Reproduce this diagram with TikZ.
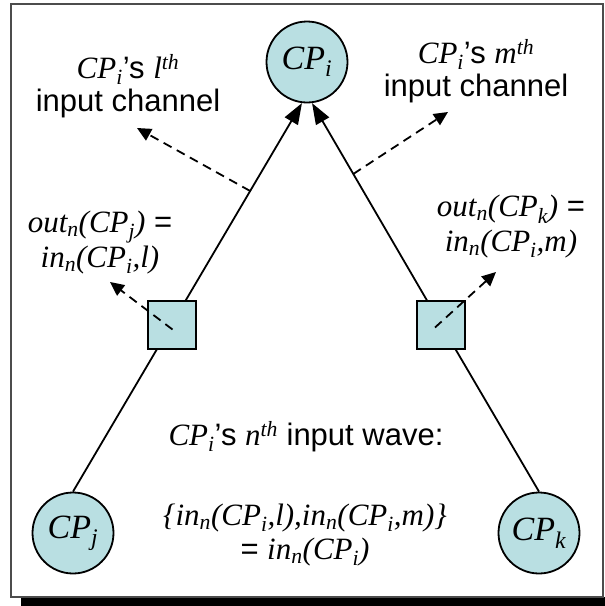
\documentclass[tikz,border=0pt]{standalone}
\usepackage{fontspec}
\setmainfont{Liberation Sans}
\newfontfamily\tnr{Liberation Serif}
\usetikzlibrary{arrows.meta,calc,backgrounds}
\definecolor{cpfill}{RGB}{185,223,226}
\newcommand{\mi}[1]{{\tnr\itshape #1}}
\newcommand{\lsb}[1]{\textsubscript{#1}}
\newcommand{\lsp}[1]{\textsuperscript{#1}}
\begin{document}
\begin{tikzpicture}[x=1pt,y=-1pt,
  cp/.style={circle,draw=black,line width=1.8pt,fill=cpfill,minimum size=81pt,inner sep=0pt,
    font=\fontsize{34}{38}\selectfont},
  sq/.style={rectangle,draw=black,line width=2pt,fill=cpfill,minimum width=48pt,minimum height=48pt,inner sep=0pt},
  lbl/.style={align=center,font=\fontsize{31}{33}\selectfont,inner sep=0pt},
  edge/.style={line width=1.8pt},
  arr/.style={edge,-{Triangle[length=21pt,width=15pt]}},
  dasharr/.style={line width=1.8pt,dash pattern=on 9pt off 6pt,-{Triangle[length=14pt,width=13pt]}}]
\useasboundingbox (0,0) rectangle (605,606);
% frame and shadow
\fill[black] (21,597) rectangle (605,606);
\draw[draw=black!70,line width=1.4pt] (11,4) rectangle (603,597);
% nodes
\node[cp] (ci) at (307,62) {\mi{CP\lsb{i}}};
\node[cp] (cj) at (73,533) {\mi{CP\lsb{j}}};
\node[cp] (ck) at (539,533) {\mi{CP\lsb{k}}};
\node[sq] (sql) at (171.5,324.5) {};
\node[sq] (sqr) at (441,324.5) {};
% labels
\node[lbl] (ll) at (128,86) {\mi{CP\lsb{i}}’s \mi{l\lsp{th}}\\input channel};
\node[lbl] (lr) at (476,71) {\mi{CP\lsb{i}}’s \mi{m\lsp{th}}\\input channel};
\node[lbl,font=\fontsize{31}{35}\selectfont] (ol) at (100,243) {\mi{out\lsb{n}(CP\lsb{j})} =\\\mi{in\lsb{n}(CP\lsb{i},l)}};
\node[lbl,font=\fontsize{31}{35}\selectfont] (or) at (511,227) {\mi{out\lsb{n}(CP\lsb{k})} =\\\mi{in\lsb{n}(CP\lsb{i},m)}};
\node[lbl] (wv) at (306,437) {\mi{CP\lsb{i}}’s \mi{n\lsp{th}} input wave:};
\node[lbl,font=\fontsize{31}{34}\selectfont] (eq) at (305,535) {\mi{\{in\lsb{n}(CP\lsb{i},l),in\lsb{n}(CP\lsb{i},m)\}}\\= \mi{in\lsb{n}(CP\lsb{i})}};
% free ends of dashed arrows
\coordinate (tl) at (137,128);
\coordinate (tr) at (448,112);
\coordinate (tsl) at (110,282);
\coordinate (tsr) at (496,272);
\begin{pgfonlayer}{background}
\draw[edge] (cj.north) -- (sql.center);
\draw[edge] (ck.north) -- (sqr.center);
\draw[arr] (sql.center) -- (ci.263);
\draw[arr] (sqr.center) -- (ci.277);
\end{pgfonlayer}
\coordinate (dl) at ($(sql.center)!0.603!(ci.263)$);
\coordinate (dr) at ($(sqr.center)!0.68!(ci.277)$);
\draw[dasharr] (dl) -- (tl);
\draw[dasharr] (dr) -- (tr);
\draw[dasharr] ($(sql.center)+(1,5)$) -- (tsl);
\draw[dasharr] ($(sqr.center)+(-6,3)$) -- (tsr);
\end{tikzpicture}
\end{document}
